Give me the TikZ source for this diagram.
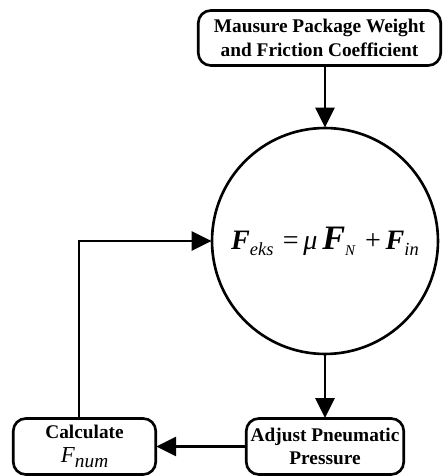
\documentclass[tikz,border=0pt]{standalone}
\usepackage{fontspec}
\setmainfont{Liberation Serif}
\usetikzlibrary{arrows.meta,positioning,calc}
\newcommand{\lowidx}[2][10]{\raisebox{-0.45ex}{\fontsize{#1}{#1}\selectfont\textit{#2}}}

\begin{document}
\begin{tikzpicture}[x=0.02cm, y=-0.02cm, line width=1.5pt,
    >={Triangle[length=4mm, width=3.8mm]},
    box/.style={draw, rounded corners=2.5mm, align=center, inner sep=2pt,
                font=\fontsize{11}{13.5}\selectfont\bfseries},
    arr/.style={->, shorten >=-0.5pt}]
                \useasboundingbox (0,0) rectangle (445,476);
                % Top box
                \node[box, minimum width=4.85cm, minimum height=1.1cm] (measure) at (319.5,38)
                    {Mausure Package Weight\\and Friction Coefficient};
                
                % Circle with the force balance
                \node[draw, circle, minimum size=4.52cm, inner sep=0pt] (eq) at (325,241)
                    {\fontsize{16}{18}\selectfont\textbf{\textit{F}}\lowidx[10.5]{eks}\,\,=\,\textit{μ}\,{\fontsize{19.5}{20}\selectfont\textbf{\textit{F}}}\lowidx[8.5]{N}\,\,+\,\textbf{\textit{F}}\lowidx[10.5]{in}};
                
                % Bottom boxes
                \node[box, minimum width=3.15cm, minimum height=1.12cm] (adjust) at (325,446.5)
                    {Adjust Pneumatic\\Pressure};
                \node[box, minimum width=2.85cm, minimum height=1.12cm] (calc) at (84.5,446.5)
                    {Calculate\\{\mdseries\fontsize{13}{14}\selectfont\textit{F}\lowidx[11]{num}}};
                
                % Arrows
                \draw[arr] (measure.south -| eq.north) -- (eq.north);
                \draw[arr] (eq.south) -- (adjust.north -| eq.south);
                \draw[arr] (adjust.west) -- (calc.east);
                \draw[arr] ([xshift=-0.11cm]calc.north) |- (eq.west);
            \end{tikzpicture}
\end{document}
